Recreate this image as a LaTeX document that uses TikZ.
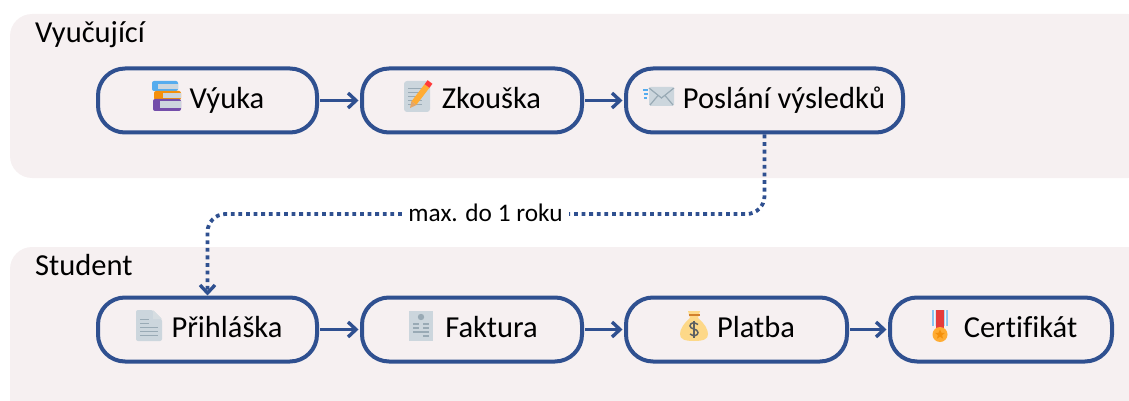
\documentclass[tikz,border=0pt]{standalone}
\usepackage{fontspec}
\setmainfont{Carlito}[Ligatures=CommonOff]
\usetikzlibrary{arrows.meta,positioning}
\definecolor{panelc}{HTML}{F6F0F1}
\definecolor{linec}{HTML}{2F5090}
\definecolor{iconc}{HTML}{CCD6DD}
\definecolor{icond}{HTML}{99AAB5}
\definecolor{skyc}{HTML}{55ACEE}
\definecolor{orangec}{HTML}{F4900C}
\definecolor{purplec}{HTML}{744EAA}
\definecolor{goldc}{HTML}{FFAC33}
\definecolor{bagc}{HTML}{FDD888}
\newcommand{\tx}[1]{\hspace{39pt}#1}
\tikzset{
  x=1pt,y=-1pt,
  panel/.style={fill=panelc,draw=none,rounded corners=22pt},
  stepbox/.style={draw=linec,line width=4pt,rounded corners=27pt,minimum height=64pt,
    inner sep=0pt,font=\fontsize{30.5}{32}\selectfont,text height=22pt,text depth=6pt,fill=panelc},
  flow/.style={draw=linec,line width=3.8pt,-{Straight Barb[length=8pt,width=15pt,line width=3.4pt]},shorten >=1.5pt,shorten <=1pt},
  later/.style={draw=linec,line width=3.8pt,dash pattern=on 3.8pt off 3.8pt,rounded corners=18pt},
  title/.style={anchor=base west,inner sep=0pt,font=\fontsize{30.5}{32}\selectfont},
  iconline/.style={draw=icond,line width=1.2pt},
  pics/books/.style={code={
    \fill[skyc,rounded corners=2pt] (0,0) rectangle (26,10);
    \fill[iconc] (6,3) rectangle (26,8);
    \fill[orangec,rounded corners=2pt] (2,10) rectangle (29,19);
    \fill[iconc] (11,12) rectangle (29,17);
    \fill[purplec,rounded corners=2pt] (1,18) rectangle (29,30);
    \fill[iconc] (8,20) rectangle (29,27);
  }},
  pics/memo/.style={code={
    \fill[iconc,rounded corners=3pt] (0,0) rectangle (26,31);
    \foreach \yy in {8,12,16,20,24}{\draw[iconline,line width=1pt] (4,\yy) -- (18,\yy);}
    \draw[line width=6pt,draw=goldc] (10,22) -- (23,5);
    \draw[line width=6pt,draw=red!70!pink] (23,5) -- (26,1);
    \fill[brown!60!orange!70] (7.5,20) -- (12.5,24) -- (6,27) -- cycle;
  }},
  pics/mail/.style={code={
    \fill[iconc,rounded corners=1.5pt] (6,0) rectangle (31,19);
    \draw[iconline] (6,1) -- (18.5,11) -- (31,1);
    \draw[iconline] (7,18) -- (15,8.5);
    \draw[iconline] (30,18) -- (22,8.5);
    \draw[skyc,line width=1.2pt] (0,3) -- (5,3) (1,7) -- (5,7) (1,11) -- (4,11);
  }},
  pics/doc/.style={code={
    \fill[iconc,rounded corners=2pt] (0,0) -- (17,0) -- (26,9) -- (26,31) -- (0,31) -- cycle;
    \fill[icond!40!white] (17,0) -- (17,9) -- (26,9) -- cycle;
    \foreach \yy in {9,13}{\draw[iconline,line width=1pt] (4,\yy) -- (13,\yy);}
    \foreach \yy in {17,21,25}{\draw[iconline,line width=1pt] (4,\yy) -- (22,\yy);}
  }},
  pics/receipt/.style={code={
    \fill[iconc] (0,0) rectangle (24,30);
    \fill[icond] (12,6) circle (3.2pt);
    \draw[iconline] (4,13) -- (10,13) (14,13) -- (20,13) (4,17) -- (10,17) (14,17) -- (20,17) (4,21) -- (20,21) (14,25) -- (20,25);
  }},
  pics/bag/.style={code={
    \fill[bagc] (8,0) -- (20,0) -- (18,7) .. controls (24,12) and (28,18) .. (28,23)
      .. controls (28,28) and (24,30) .. (14,30) .. controls (4,30) and (0,28) .. (0,23)
      .. controls (0,18) and (4,12) .. (10,7) -- cycle;
    \draw[brown!70!orange,line width=1.2pt] (8.5,4) -- (19.5,4);
    \draw[black!55!iconc,line width=1.5pt] (18,13.5) .. controls (14,10.5) and (10,12) .. (10,15)
      .. controls (10,18.5) and (18,17.5) .. (18,21.5) .. controls (18,25) and (13,25.5) .. (10,23);
    \draw[black!55!iconc,line width=1.2pt] (14,9.5) -- (14,27);
  }},
  pics/medal/.style={code={
    \fill[skyc!70!white] (0,0) rectangle (16,16);
    \fill[panelc!70!white] (2,0) rectangle (3.5,16) (12.5,0) rectangle (14,16);
    \fill[red!65!pink!90!black] (4,0) rectangle (12,20);
    \fill[goldc] (8,24.5) circle (7.5pt);
    \fill[orangec,shift={(8,24.5)}] (270:5.2) -- (306:2.2) -- (342:5.2) -- (18:2.2) -- (54:5.2)
      -- (90:2.2) -- (126:5.2) -- (162:2.2) -- (198:5.2) -- (234:2.2) -- cycle;
  }},
}
\begin{document}
\begin{tikzpicture}
\useasboundingbox (0,0) rectangle (1129,401);
\begin{scope}
\clip (0,0) rectangle (1129,401);
\fill[panel] (10,14) rectangle (1150,178);
\fill[panel] (10,247) rectangle (1150,430);
\end{scope}
\node[title] (teacher) at (35,43) {Vyučující};
\node[title] (student) at (35,275) {Student};

\node[stepbox,minimum width=219pt] (vyuka) at (207.5,100.5) {\tx{Výuka}};
\node[stepbox,minimum width=220pt] (zkouska) at (472,100.5) {\tx{Zkouška}};
\node[stepbox,minimum width=277pt] (poslani) at (764.5,100.5) {\tx{Poslání výsledků}};
\node[stepbox,minimum width=219pt] (prihlaska) at (207.5,329.5) {\tx{Přihláška}};
\node[stepbox,minimum width=220pt] (faktura) at (472,329.5) {\tx{Faktura}};
\node[stepbox,minimum width=221pt] (platba) at (736.5,329.5) {\tx{Platba}};
\node[stepbox,minimum width=222pt] (certifikat) at (1001,329.5) {\tx{Certifikát}};

\draw[flow] (vyuka) -- (zkouska);
\draw[flow] (zkouska) -- (poslani);
\draw[flow] (prihlaska) -- (faktura);
\draw[flow] (faktura) -- (platba);
\draw[flow] (platba) -- (certifikat);

\node[inner sep=0pt,minimum height=24pt,minimum width=167pt,text height=19pt,text depth=5pt,font=\fontsize{25.3}{27}\selectfont] (limit) at (485.5,214) {max. do 1 roku};
\draw[later] (poslani.south) |- (limit.east);
\draw[later,-{Straight Barb[length=8pt,width=15pt,line width=3.4pt]}] (limit.west) -| (prihlaska.north);

\pic at (152,81) {books};
\pic at (404,81) {memo};
\pic at (643,87) {mail};
\pic at (136,310) {doc};
\pic at (409,311) {receipt};
\pic at (680,311) {bag};
\pic at (932,310) {medal};
\end{tikzpicture}
\end{document}
